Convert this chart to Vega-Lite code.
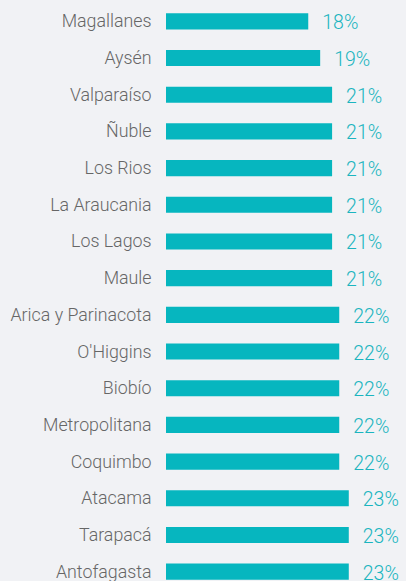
{
  "$schema": "https://vega.github.io/schema/vega-lite/v6.json",
  "width": 240,
  "height": 587,
  "autosize": {"type": "none"},
  "padding": {"left": 166, "top": 3, "right": 0, "bottom": 0},
  "background": "#F1F2F5",
  "config": {"view": {"stroke": null}},
  "data": {"values": [
    {"region": "Magallanes", "share": 0.179},
    {"region": "Aysén", "share": 0.194},
    {"region": "Valparaíso", "share": 0.209},
    {"region": "Ñuble", "share": 0.209},
    {"region": "Los Rios", "share": 0.209},
    {"region": "La Araucania", "share": 0.209},
    {"region": "Los Lagos", "share": 0.209},
    {"region": "Maule", "share": 0.209},
    {"region": "Arica y Parinacota", "share": 0.218},
    {"region": "O'Higgins", "share": 0.218},
    {"region": "Biobío", "share": 0.218},
    {"region": "Metropolitana", "share": 0.218},
    {"region": "Coquimbo", "share": 0.218},
    {"region": "Atacama", "share": 0.230},
    {"region": "Tarapacá", "share": 0.230},
    {"region": "Antofagasta", "share": 0.230}
  ]},
  "encoding": {
    "y": {
      "field": "region", "type": "nominal", "sort": null,
      "scale": {"paddingInner": 0.56, "paddingOuter": 0.28},
      "axis": {"title": null, "domain": false, "ticks": false, "labelPadding": 15, "labelOffset": 1,
               "labelFont": "Roboto", "labelFontWeight": 300, "labelFontSize": 17.8, "labelColor": "#666666"}
    },
    "x": {"field": "share", "type": "quantitative", "scale": {"domain": [0, 0.302]}, "axis": null}
  },
  "layer": [
    {"mark": {"type": "bar", "color": "#06B6BF"}},
    {"mark": {"type": "text", "align": "left", "dx": 14, "dy": 2, "baseline": "middle",
              "font": "Roboto", "fontWeight": 300, "fontSize": 19.5, "color": "#1BB5BF"},
     "encoding": {"text": {"field": "share", "format": ".0%"}}}
  ]
}
